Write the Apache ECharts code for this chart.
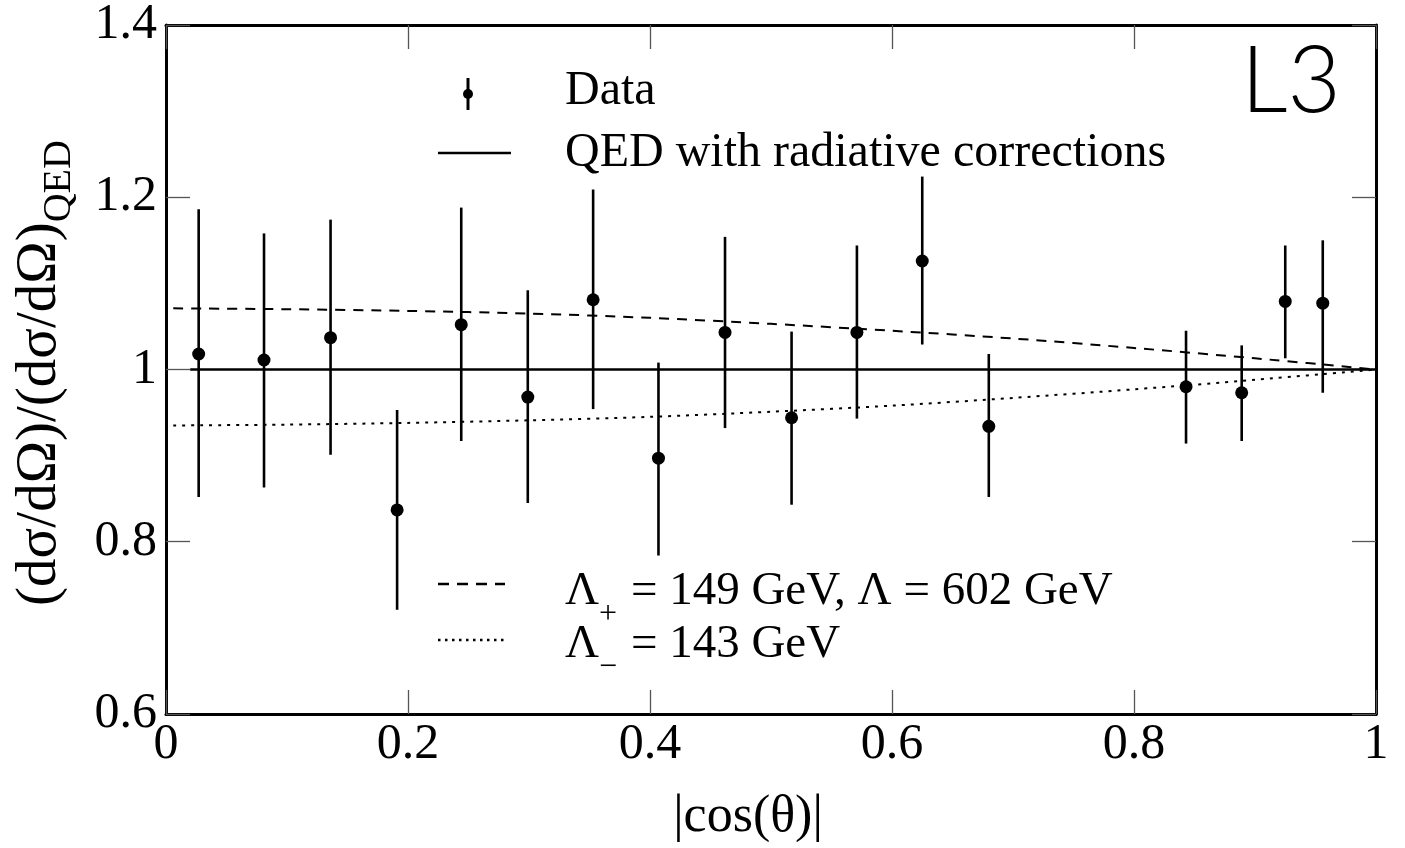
<!DOCTYPE html>
<html>
<head>
<meta charset="utf-8">
<script src="https://cdn.jsdelivr.net/npm/echarts@6/dist/echarts.min.js"></script>
<style>html,body{margin:0;padding:0;background:#fff;}#c{width:1405px;height:848px;}</style>
</head>
<body>
<div id="c"></div>
<script>
// ---- data ----
const cosTheta = [0.027, 0.081, 0.136, 0.191, 0.244, 0.299, 0.353, 0.407, 0.462, 0.517, 0.571, 0.625, 0.680, 0.843, 0.889, 0.925, 0.956];
const ratio    = [1.018, 1.011, 1.037, 0.837, 1.052, 0.968, 1.081, 0.897, 1.043, 0.944, 1.043, 1.126, 0.934, 0.980, 0.973, 1.079, 1.077];
const errLow   = [0.852, 0.863, 0.901, 0.721, 0.917, 0.845, 0.954, 0.784, 0.932, 0.843, 0.943, 1.029, 0.852, 0.914, 0.917, 1.013, 0.973];
const errHigh  = [1.186, 1.158, 1.174, 0.953, 1.188, 1.092, 1.209, 1.008, 1.154, 1.044, 1.144, 1.224, 1.018, 1.045, 1.028, 1.144, 1.150];

const qedX = [0.02, 1.0];
const qedY = [1.0, 1.0];

const curveX    = [0.006, 0.1, 0.2, 0.3, 0.4, 0.5, 0.6, 0.7, 0.8, 0.9, 1.0];
const lamPlusY  = [1.071, 1.070, 1.068, 1.065, 1.060, 1.053, 1.045, 1.036, 1.025, 1.013, 1.000];
const lamMinusY = [0.935, 0.936, 0.938, 0.941, 0.945, 0.951, 0.958, 0.967, 0.977, 0.988, 1.000];

const xTicks = [0, 0.2, 0.4, 0.6, 0.8, 1];
const yTicks = [0.6, 0.8, 1, 1.2, 1.4];

const legendData = 'Data';
const legendQED = 'QED with radiative corrections';
const legendPlus = ['Λ', '+', ' = 149 GeV, Λ = 602 GeV'];
const legendMinus = ['Λ', '−', ' = 143 GeV'];
const xTitle = '|cos(θ)|';
const yTitle = ['(dσ/dΩ)/(dσ/dΩ)', 'QED'];
const logo = 'L3';

// ---- chart ----
const FONT = '"Liberation Serif", "Times New Roman", serif';
const chart = echarts.init(document.getElementById('c'), null, {renderer: 'canvas'});

const zip = (a, b) => a.map((v, i) => [v, b[i]]);

function axisCommon(showLabel, pos) {
  return {
    type: 'value',
    position: pos,
    min: xTicks[0], max: xTicks[xTicks.length - 1], interval: 0.2,
    axisLine: {show: true, onZero: false, lineStyle: {color: '#000', width: 3}},
    axisTick: {show: true, inside: true, length: 24, lineStyle: {color: '#555', width: 1.3}},
    splitLine: {show: false},
    axisLabel: {show: showLabel, color: '#000', fontFamily: FONT, fontSize: 50, margin: 6,
      formatter: v => String(+v.toFixed(1))}
  };
}
function yAxisCommon(showLabel, pos) {
  const a = axisCommon(showLabel, pos);
  a.min = yTicks[0]; a.max = yTicks[yTicks.length - 1]; a.interval = 0.2;
  a.axisLabel.margin = 9;
  return a;
}

const subRich = (fs, sfs, pad) => ({
  a: {fontFamily: FONT, fontSize: fs, lineHeight: fs, verticalAlign: 'top', fill: '#000'},
  s: {fontFamily: FONT, fontSize: sfs, lineHeight: sfs, padding: [pad, 2, 0, 0], verticalAlign: 'top', fill: '#000'}
});

const option = {
  backgroundColor: '#fff',
  animation: false,
  grid: {left: 166, right: 29, top: 24, bottom: 134, containLabel: false},
  xAxis: [axisCommon(true, 'bottom'), axisCommon(false, 'top')],
  yAxis: [yAxisCommon(true, 'left'), yAxisCommon(false, 'right')],
  series: [
    {type: 'line', data: zip(qedX, qedY), symbol: 'none', lineStyle: {color: '#000', width: 2.5}, z: 3},
    {type: 'line', data: zip(curveX, lamPlusY), symbol: 'none', smooth: 0.3,
      lineStyle: {color: '#000', width: 2, type: [10, 8]}, z: 3},
    {type: 'line', data: zip(curveX, lamMinusY), symbol: 'none', smooth: 0.3,
      lineStyle: {color: '#000', width: 2, type: [3, 6]}, z: 3},
    {type: 'custom', z: 4,
      data: cosTheta.map((x, i) => [x, errLow[i], errHigh[i]]),
      renderItem: function (params, api) {
        const p1 = api.coord([api.value(0), api.value(1)]);
        const p2 = api.coord([api.value(0), api.value(2)]);
        return {type: 'line', shape: {x1: p1[0], y1: p1[1], x2: p2[0], y2: p2[1]},
          style: {stroke: '#000', lineWidth: 2.6}};
      }
    },
    {type: 'scatter', data: zip(cosTheta, ratio), symbol: 'circle', symbolSize: 13,
      itemStyle: {color: '#000', opacity: 1}, z: 5}
  ],
  graphic: [
    // x title
    {type: 'text', style: {text: xTitle, font: '52px ' + FONT, fill: '#000',
      x: 748, y: 817, align: 'center', verticalAlign: 'middle'}},
    // y title
    {type: 'text', x: 40, y: 372, rotation: Math.PI / 2,
      style: {text: '{a|' + yTitle[0] + '}{s|' + yTitle[1] + '}', align: 'center', verticalAlign: 'middle',
        rich: subRich(57, 40, 28)}},
    // logo
    {type: 'text', style: {text: logo, x: 1291, y: 82, align: 'center', verticalAlign: 'middle',
      fontFamily: 'Lato, "DejaVu Sans", sans-serif', fontWeight: 300, fontSize: 92, fill: '#000'}},
    // legend: data marker
    {type: 'line', shape: {x1: 468, y1: 78, x2: 468, y2: 110}, style: {stroke: '#000', lineWidth: 3}},
    {type: 'circle', shape: {cx: 468, cy: 94, r: 5}, style: {fill: '#000'}},
    {type: 'text', style: {text: legendData, x: 565, y: 91, verticalAlign: 'middle',
      font: '48px ' + FONT, fill: '#000'}},
    // legend: QED line
    {type: 'line', shape: {x1: 438, y1: 153, x2: 511, y2: 153}, style: {stroke: '#000', lineWidth: 2.5}},
    {type: 'text', style: {text: legendQED, x: 565, y: 153, verticalAlign: 'middle',
      font: '48px ' + FONT, fill: '#000'}},
    // legend: dashed
    {type: 'line', shape: {x1: 438, y1: 584, x2: 505, y2: 584}, style: {stroke: '#000', lineWidth: 2.5, lineDash: [11, 8]}},
    {type: 'text', style: {x: 565, y: 592, verticalAlign: 'middle',
      text: '{a|' + legendPlus[0] + '}{s|' + legendPlus[1] + '}{a|' + legendPlus[2] + '}',
      rich: subRich(47, 32, 30)}},
    // legend: dotted
    {type: 'line', shape: {x1: 438, y1: 640, x2: 505, y2: 640}, style: {stroke: '#000', lineWidth: 2.5, lineDash: [2.5, 4.5]}},
    {type: 'text', style: {x: 565, y: 645, verticalAlign: 'middle',
      text: '{a|' + legendMinus[0] + '}{s|' + legendMinus[1] + '}{a|' + legendMinus[2] + '}',
      rich: subRich(47, 32, 30)}}
  ]
};
chart.setOption(option);
</script>
</body>
</html>
